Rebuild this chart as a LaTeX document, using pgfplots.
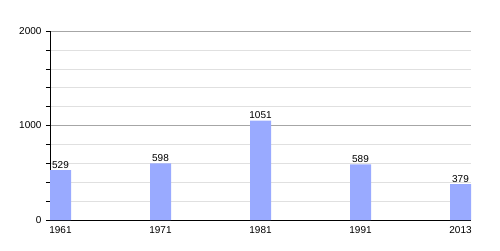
\documentclass[border=0pt]{standalone}
\usepackage{fontspec}
\setmainfont{Liberation Sans}
\usepackage{pgfplots}
\pgfplotsset{compat=1.18}
\definecolor{barc}{RGB}{153,170,255}
\begin{document}
\begin{tikzpicture}
\useasboundingbox (-50pt,-30pt) rectangle (450pt,220pt);
\begin{axis}[
  at={(0pt,0pt)}, anchor=south west,
  scale only axis, width=421pt, height=189pt,
  xmin=0, xmax=4.21, ymin=0, ymax=2000,
  axis x line*=bottom, axis y line*=left,
  axis line style={black, line width=0.8pt, -},
  ytick={0,1000,2000},
  minor ytick={200,400,600,800,1200,1400,1600,1800},
  ymajorgrids, yminorgrids,
  major grid style={draw=black!35, line width=0.6pt},
  minor grid style={draw=black!12, line width=0.6pt},
  tick align=outside,
  major tick length=4pt, minor tick length=4pt,
  ytick style={black, line width=0.6pt},
  xtick={0.105,1.105,2.105,3.105,4.105},
  xticklabels={1961,1971,1981,1991,2013},
  xtick style={draw=none},
  /pgf/number format/assume math mode=true,
  /pgf/number format/1000 sep={},
  ticklabel style={font=\fontsize{10}{12}\selectfont, text=black},
  yticklabel style={xshift=-1pt},
  xticklabel style={yshift=1pt},
  nodes near coords,
  every node near coord/.append style={font=\fontsize{10}{12}\selectfont, inner sep=1.5pt, text=black},
  clip=false,
]
\addplot[ybar, bar width=0.21, bar shift=0pt, fill=barc, draw=none]
  coordinates {(0.105,529) (1.105,598) (2.105,1051) (3.105,589) (4.105,379)};
\end{axis}
\end{tikzpicture}
\end{document}
